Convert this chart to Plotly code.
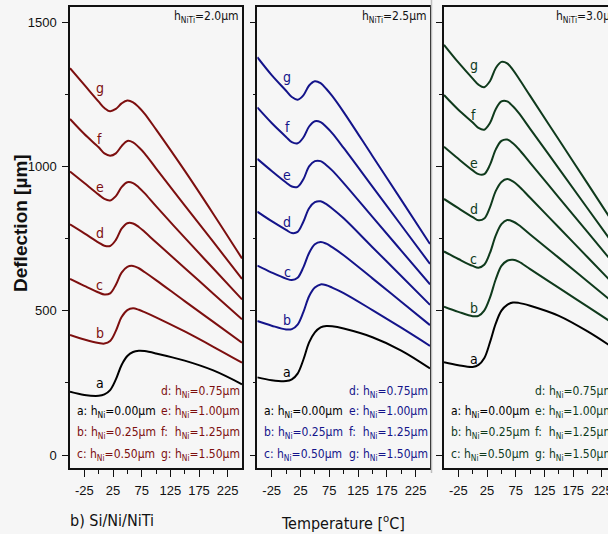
import plotly.graph_objects as go

# Temperature grid (°C) shared by every curve
temps = [-50, -25, 0, 10, 20, 30, 40, 50, 60, 70, 80, 100, 150, 200, 250]

curve_ids = ["a", "b", "c", "d", "e", "f", "g"]
ni_thick = ["0.00", "0.25", "0.50", "0.75", "1.00", "1.25", "1.50"]

# Axis tick positions and labels
x_ticks = [-25, 25, 75, 125, 175, 225]
x_tick_text = ["-25", "25", "75", "125", "175", "225"]
x_minor = [0, 50, 100, 150, 200]
y_ticks = [0, 500, 1000, 1500]
y_minor = [250, 750, 1250]

# Deflection (µm) for h_NiTi = 2.0 µm
defl_20_a = [219, 208, 205, 210, 225, 262, 312, 343, 357, 361, 360, 352, 327, 293, 245]
defl_20_b = [416, 400, 388, 386, 395, 430, 478, 502, 508, 503, 495, 477, 428, 375, 320]
defl_20_c = [610, 586, 563, 556, 560, 590, 632, 652, 655, 647, 634, 606, 533, 461, 389]
defl_20_d = [799, 768, 736, 725, 724, 745, 784, 803, 802, 790, 773, 737, 648, 559, 470]
defl_20_e = [982, 942, 902, 887, 882, 897, 928, 945, 942, 927, 907, 862, 753, 646, 539]
defl_20_f = [1164, 1112, 1066, 1045, 1037, 1045, 1070, 1088, 1083, 1066, 1045, 993, 865, 738, 610]
defl_20_g = [1340, 1282, 1224, 1202, 1191, 1199, 1218, 1228, 1222, 1205, 1183, 1128, 985, 835, 681]

# Deflection (µm) for h_NiTi = 2.5 µm
defl_25_a = [269, 259, 256, 262, 282, 330, 390, 425, 442, 447, 446, 438, 408, 362, 300]
defl_25_b = [464, 448, 435, 436, 452, 495, 550, 580, 591, 588, 580, 561, 502, 441, 378]
defl_25_c = [656, 632, 611, 606, 614, 650, 700, 730, 738, 732, 720, 692, 612, 531, 450]
defl_25_d = [843, 810, 780, 769, 773, 808, 855, 876, 879, 869, 854, 820, 720, 620, 520]
defl_25_e = [1026, 984, 944, 930, 929, 955, 1000, 1018, 1018, 1004, 986, 942, 825, 708, 591]
defl_25_f = [1204, 1150, 1102, 1084, 1080, 1100, 1138, 1156, 1153, 1136, 1115, 1064, 930, 796, 662]
defl_25_g = [1378, 1316, 1262, 1240, 1231, 1246, 1280, 1295, 1288, 1268, 1244, 1188, 1036, 884, 731]

# Deflection (µm) for h_NiTi = 3.0 µm
defl_30_a = [321, 311, 305, 312, 335, 390, 455, 500, 520, 528, 527, 517, 482, 428, 364]
defl_30_b = [514, 496, 481, 482, 500, 545, 608, 655, 673, 676, 670, 644, 579, 514, 449]
defl_30_c = [705, 679, 655, 649, 659, 700, 760, 800, 814, 809, 797, 764, 683, 601, 519]
defl_30_d = [887, 855, 824, 813, 819, 858, 914, 946, 956, 948, 932, 891, 788, 685, 582]
defl_30_e = [1068, 1026, 986, 973, 973, 1005, 1058, 1088, 1093, 1080, 1060, 1012, 892, 772, 652]
defl_30_f = [1247, 1196, 1152, 1133, 1127, 1150, 1198, 1225, 1225, 1208, 1185, 1130, 992, 854, 716]
defl_30_g = [1421, 1360, 1304, 1283, 1274, 1295, 1340, 1362, 1357, 1334, 1305, 1244, 1092, 940, 788]

# Where each curve letter sits (temperature, deflection)
label_t = [2, 2, 2, 2, 2, 2, 2]
label_20 = [249, 424, 590, 768, 930, 1095, 1270]
label_25 = [289, 468, 635, 808, 970, 1135, 1311]
label_30 = [331, 508, 678, 851, 1011, 1178, 1351]

panels = [
    {"h": "2.0", "color": "#7d0f0f", "series": [defl_20_a, defl_20_b, defl_20_c, defl_20_d, defl_20_e, defl_20_f, defl_20_g], "labels": label_20},
    {"h": "2.5", "color": "#14148a", "series": [defl_25_a, defl_25_b, defl_25_c, defl_25_d, defl_25_e, defl_25_f, defl_25_g], "labels": label_25},
    {"h": "3.0", "color": "#0f3a1c", "series": [defl_30_a, defl_30_b, defl_30_c, defl_30_d, defl_30_e, defl_30_f, defl_30_g], "labels": label_30},
]

W, H = 608, 534
BG = "#f6f6f6"
TICK_FONT = dict(family="Liberation Sans, Arial, sans-serif", size=13, color="#111")
NOTE_FONT = "DejaVu Sans Condensed, Tahoma, sans-serif"

x_domains = [[70 / W, 242 / W], [257.3 / W, 430 / W], [444 / W, 1.0]]
x_ranges = [[-50, 250], [-50, 250], [-50, 235.5]]
y_range = [-45, 1552]

fig = go.Figure()
annotations = []

for i, p in enumerate(panels):
    n = i + 1
    xa = "x" if n == 1 else f"x{n}"
    ya = "y" if n == 1 else f"y{n}"
    for k, vals in enumerate(p["series"]):
        col = "#000000" if k == 0 else p["color"]
        fig.add_trace(go.Scatter(
            x=temps, y=vals, mode="lines", xaxis=xa, yaxis=ya,
            line=dict(color=col, width=2, shape="spline", smoothing=1.0),
            showlegend=False, hoverinfo="skip"))
        annotations.append(dict(
            x=label_t[k], y=p["labels"][k], xref=xa, yref=ya, text=curve_ids[k],
            showarrow=False, font=dict(family=NOTE_FONT, size=14, color=col),
            xanchor="center", yanchor="middle"))

    # key to the curve letters
    rows = {"a": 149, "b": 76, "c": 0, "d": 218, "e": 149, "f": 76, "g": 0}
    for k, cid in enumerate(curve_ids):
        col = "#000000" if k == 0 else p["color"]
        sep = ":  " if cid == "f" else ": "
        annotations.append(dict(
            x=-42 if k < 3 else 105, y=rows[cid], xref=xa, yref=ya,
            text=f"{cid}{sep}h<sub>Ni</sub>={ni_thick[k]}µm",
            showarrow=False, font=dict(family=NOTE_FONT, size=12, color=col),
            xanchor="left", yanchor="middle"))

    # NiTi thickness tag in the upper corner
    if n < 3:
        annotations.append(dict(
            x=x_ranges[i][1] - 1, y=1518, xref=xa, yref=ya,
            text=f"h<sub>NiTi</sub>={p['h']}µm", showarrow=False,
            font=dict(family=NOTE_FONT, size=12, color="#111"),
            xanchor="right", yanchor="middle"))
    else:
        annotations.append(dict(
            x=141.5, y=1518, xref=xa, yref=ya,
            text=f"h<sub>NiTi</sub>={p['h']}µm", showarrow=False,
            font=dict(family=NOTE_FONT, size=12, color="#111"),
            xanchor="left", yanchor="middle"))

    xkey = "xaxis" if n == 1 else f"xaxis{n}"
    ykey = "yaxis" if n == 1 else f"yaxis{n}"
    fig.update_layout({
        xkey: dict(
            domain=x_domains[i], range=x_ranges[i], anchor=ya, automargin=False,
            showgrid=False, zeroline=False,
            showline=True, linecolor="#111", linewidth=1.5, mirror=True,
            ticks="outside", ticklen=7, tickwidth=1.2, tickcolor="#111",
            tickmode="array", tickvals=x_ticks, ticktext=x_tick_text,
            tickfont=TICK_FONT, ticklabelstandoff=3, ticklabeloverflow="allow",
            minor=dict(ticks="outside", ticklen=4, tickmode="array", tickvals=x_minor,
                       tickcolor="#111", tickwidth=1.2),
        ),
        ykey: dict(
            domain=[0, 1], range=y_range, anchor=xa, automargin=False,
            showgrid=False, zeroline=False,
            showline=True, linecolor="#111", linewidth=1.5, mirror=(n < 3),
            ticks="outside", ticklen=6, tickwidth=1.2, tickcolor="#111",
            tickmode="array", tickvals=y_ticks,
            tickfont=TICK_FONT, showticklabels=(n == 1), ticklabelstandoff=3,
            minor=dict(ticks="outside", ticklen=3, tickmode="array", tickvals=y_minor,
                       tickcolor="#111", tickwidth=1.2),
        ),
    })

# axis titles and panel caption
annotations.append(dict(
    x=20 / W, y=1 - (223 - 7) / (H - 73), xref="paper", yref="paper",
    text="<b>Deflection [µm]</b>", textangle=-90, showarrow=False,
    font=dict(family="Liberation Sans, Arial, sans-serif", size=19, color="#111"),
    xanchor="center", yanchor="middle"))
annotations.append(dict(
    x=343 / W, y=-(522 - 468) / (H - 73), xref="paper", yref="paper",
    text="Temperature [<sup>o</sup>C]", showarrow=False,
    font=dict(family=NOTE_FONT, size=16, color="#111"),
    xanchor="center", yanchor="middle"))
annotations.append(dict(
    x=68 / W, y=-(520 - 468) / (H - 73), xref="paper", yref="paper",
    text="b) Si/Ni/NiTi", showarrow=False,
    font=dict(family=NOTE_FONT, size=16, color="#111"),
    xanchor="left", yanchor="middle"))

fig.update_layout(
    width=W, height=H, autosize=False,
    margin=dict(l=0, r=0, t=7, b=66, autoexpand=False),
    paper_bgcolor=BG, plot_bgcolor=BG,
    annotations=annotations,
    shapes=[dict(type="line", xref="paper", yref="paper",
                 x0=431.5 / W, x1=431.5 / W, y0=-(473 - 468) / (H - 73), y1=1.02,
                 line=dict(color="#bdbdbd", width=1.5))],
)

fig.write_html("out.html")
